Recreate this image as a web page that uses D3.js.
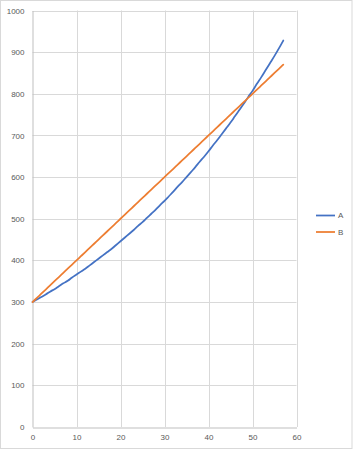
<!DOCTYPE html>
<html>
<head>
<meta charset="utf-8">
<script src="https://cdn.jsdelivr.net/npm/d3@7"></script>
<style>
  html, body { margin: 0; padding: 0; background: #fff; }
  svg { display: block; font-family: "Liberation Sans", Arial, sans-serif; }
</style>
</head>
<body>
<svg id="chart"></svg>
<script>
// x values shared by both series
const xValues = [0, 1, 2, 3, 4, 5, 6, 7, 8, 9, 10, 11, 12, 13, 14, 15, 16, 17, 18, 19,
  20, 21, 22, 23, 24, 25, 26, 27, 28, 29, 30, 31, 32, 33, 34, 35, 36, 37, 38, 39,
  40, 41, 42, 43, 44, 45, 46, 47, 48, 49, 50, 51, 52, 53, 54, 55, 56, 57];

// series A (curved)
const seriesA = [300, 306, 312, 318, 325, 331, 338, 345, 351, 359, 366, 373, 380, 388, 396, 404, 412, 420, 428, 437,
  446, 455, 464, 473, 483, 492, 502, 512, 522, 533, 543, 554, 565, 577, 588, 600, 612, 624, 637, 649,
  662, 676, 689, 703, 717, 731, 746, 761, 776, 792, 807, 824, 840, 857, 874, 891, 909, 928];

// series B (straight)
const seriesB = [300, 310, 320, 330, 340, 350, 360, 370, 380, 390, 400, 410, 420, 430, 440, 450, 460, 470, 480, 490,
  500, 510, 520, 530, 540, 550, 560, 570, 580, 590, 600, 610, 620, 630, 640, 650, 660, 670, 680, 690,
  700, 710, 720, 730, 740, 750, 760, 770, 780, 790, 800, 810, 820, 830, 840, 850, 860, 870];

const seriesNames = ["A", "B"];
const seriesColors = ["#4472C4", "#ED7D31"];
const xTicks = [0, 10, 20, 30, 40, 50, 60];
const yTicks = [0, 100, 200, 300, 400, 500, 600, 700, 800, 900, 1000];

const width = 353;
const height = 450;

const svg = d3.select("#chart")
    .attr("width", width)
    .attr("height", height);

// chart border
svg.append("rect")
    .attr("x", 0.5)
    .attr("y", 0.5)
    .attr("width", width - 1.5)
    .attr("height", height - 2)
    .attr("fill", "#fff")
    .attr("stroke", "#d9d9d9");

const x = d3.scaleLinear().domain([0, 60]).range([32.5, 296.5]);
const y = d3.scaleLinear().domain([0, 1000]).range([427, 10.5]);

// gridlines
svg.append("g")
    .selectAll("line.hgrid")
    .data(yTicks.slice(1))
    .join("line")
    .attr("x1", x(0))
    .attr("x2", x(60))
    .attr("y1", d => Math.round(y(d)) + 0.5)
    .attr("y2", d => Math.round(y(d)) + 0.5)
    .attr("stroke", "#d9d9d9");

svg.append("g")
    .selectAll("line.vgrid")
    .data(xTicks.slice(1))
    .join("line")
    .attr("x1", d => Math.round(x(d)) + 0.5)
    .attr("x2", d => Math.round(x(d)) + 0.5)
    .attr("y1", y(1000))
    .attr("y2", y(0))
    .attr("stroke", "#d9d9d9");

// axes
const yAxis = svg.append("g")
    .attr("transform", `translate(${x(0)},0)`)
    .call(d3.axisLeft(y).tickValues(yTicks).tickFormat(d3.format("d")).tickSize(0).tickPadding(8));
const xAxis = svg.append("g")
    .attr("transform", `translate(0,${Math.round(y(0)) + 0.5})`)
    .call(d3.axisBottom(x).tickValues(xTicks).tickFormat(d3.format("d")).tickSize(0).tickPadding(7));

[yAxis, xAxis].forEach(a => {
    a.select(".domain").attr("stroke", "#bfbfbf");
    a.selectAll("text")
        .attr("fill", "#595959")
        .style("font-size", "8px")
        .style("font-family", "'Liberation Sans', Arial, sans-serif");
});

// lines
const allSeries = [seriesA, seriesB];
const line = d3.line()
    .x((d, i) => x(xValues[i]))
    .y(d => y(d))
    .curve(d3.curveMonotoneX);

allSeries.forEach((vals, i) => {
    svg.append("path")
        .datum(vals)
        .attr("fill", "none")
        .attr("stroke", seriesColors[i])
        .attr("stroke-width", 1.75)
        .attr("stroke-linecap", "round")
        .attr("d", line);
});

// legend
const legend = svg.append("g")
    .selectAll("g")
    .data(seriesNames)
    .join("g")
    .attr("transform", (d, i) => `translate(316,${215.5 + i * 16.5})`);

legend.append("line")
    .attr("x1", 0)
    .attr("x2", 19)
    .attr("stroke", (d, i) => seriesColors[i])
    .attr("stroke-width", 1.75);

legend.append("text")
    .attr("x", 22)
    .attr("dy", "0.35em")
    .attr("fill", "#595959")
    .style("font-size", "8px")
    .text(d => d);
</script>
</body>
</html>
